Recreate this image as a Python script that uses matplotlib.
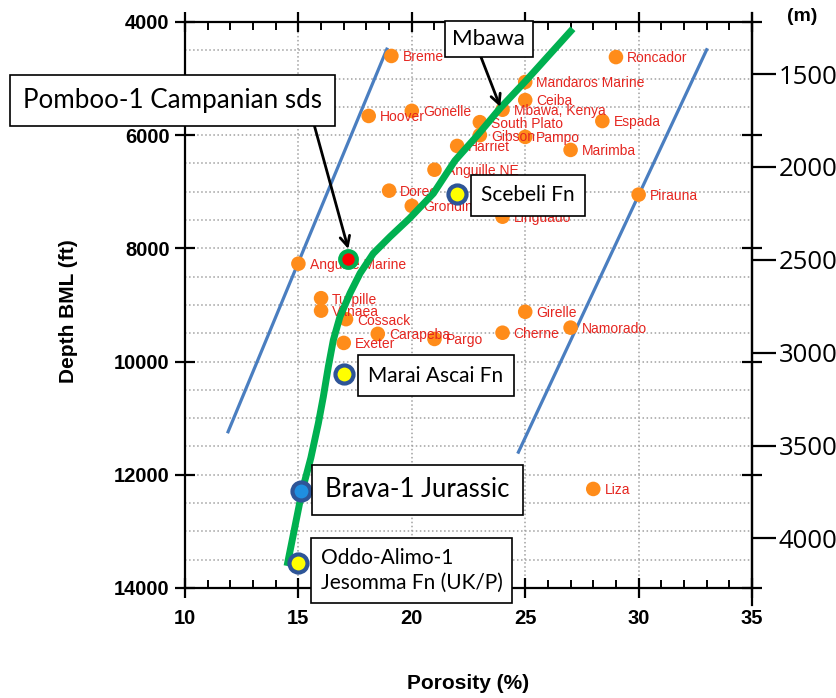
import matplotlib.pyplot as plt
import numpy as np
from matplotlib.ticker import MultipleLocator

plt.rcParams['font.family'] = ['Liberation Sans', 'DejaVu Sans']

# analogue fields: porosity (%) vs depth below mudline (ft)
field_names = ["Breme", "Roncador", "Mandaros Marine", "Ceiba", "Mbawa, Kenya",
               "Hoover", "Gonelle", "South Plato", "Gibson", "Pampo", "Harriet",
               "Espada", "Marimba", "Anguille NE", "Doreo", "Grondin", "Linguado",
               "Pirauna", "Anguille Marine", "Turpille", "Vanaea", "Cossack",
               "Carapeba", "Pargo", "Exeter", "Girelle", "Cherne", "Namorado", "Liza"]
field_poro = [19.1, 29.0, 25.0, 25.0, 24.0, 18.1, 20.0, 23.0, 23.0, 25.0, 22.0,
              28.4, 27.0, 21.0, 19.0, 20.0, 24.0, 30.0, 15.0, 16.0, 16.0, 17.1,
              18.5, 21.0, 17.0, 25.0, 24.0, 27.0, 28.0]
field_depth = [4600, 4620, 5060, 5380, 5550, 5660, 5570, 5770, 6000, 6030, 6190,
               5750, 6260, 6610, 6980, 7250, 7440, 7050, 8270, 8880, 9100, 9250,
               9510, 9600, 9670, 9120, 9490, 9400, 12250]

# porosity envelope
env_left_poro = [11.9, 18.9]
env_left_depth = [11240, 4480]
env_right_poro = [24.7, 33.0]
env_right_depth = [11600, 4490]

# compaction trend
trend_poro = [27.1, 25.05, 23.9, 22.9, 21.9, 20.95, 19.9, 19.05, 18.3, 17.72,
              17.28, 16.83, 16.54, 16.32, 16.1, 15.88, 15.55, 15.16, 14.5]
trend_depth = [4120, 5030, 5520, 6000, 6450, 7030, 7470, 7790, 8090, 8440,
               8790, 9210, 9620, 10090, 10620, 11090, 11700, 12290, 13610]

# highlighted wells
well_poro = [22.0, 17.0, 15.1, 15.0]
well_depth = [7040, 10220, 12280, 13560]
well_fill = ["#FFFF00", "#FFFF00", "#1F8FE0", "#FFFF00"]
pomboo_poro, pomboo_depth = 17.2, 8180

# callout boxes: text, centre (poro, depth), fontsize, pad, arrow start, arrow tip
callouts = [
    ("Pomboo-1 Campanian sds", (9.43, 5380), 18.7, 0.5, (15.6, 5680), (17.2, 8010)),
    ("Mbawa", (23.4, 4300), 16, 0.35, (23.05, 4620), (23.9, 5500)),
    ("Scebeli Fn", (25.12, 7065), 15, 0.5, None, None),
    ("Marai Ascai Fn", (21.05, 10246), 15, 0.5, None, None),
    ("Brava-1 Jurassic", (20.25, 12268), 18.5, 0.5, None, None),
    ("Oddo-Alimo-1\nJesomma Fn (UK/P)", (20.0, 13691), 15, 0.45, None, None),
]

m_ticks = [1500, 2000, 2500, 3000, 3500, 4000]

fig = plt.figure(figsize=(8.37, 6.98), dpi=100)
ax = fig.add_axes([0.221, 0.1576, 0.6775, 0.8109])

ax.set_xlim(10, 35)
ax.set_ylim(14000, 4000)
ax.xaxis.set_major_locator(MultipleLocator(5))
ax.xaxis.set_minor_locator(MultipleLocator(1))
ax.yaxis.set_major_locator(MultipleLocator(2000))
ax.yaxis.set_minor_locator(MultipleLocator(500))

ax.grid(which='major', axis='x', color='#A0A0A0', linestyle=':', linewidth=1.1)
ax.grid(which='both', axis='y', color='#A0A0A0', linestyle=':', linewidth=1.1)
ax.set_axisbelow(True)

for s in ax.spines.values():
    s.set_linewidth(1.6)

ax.tick_params(which='major', direction='inout', length=14, width=1.6,
               top=True, right=True, labelsize=14.5, colors='black')
ax.tick_params(axis='x', which='minor', direction='in', length=6, width=1.4,
               top=True, bottom=True)
ax.tick_params(axis='y', which='minor', length=0, left=False, right=False)
ax.tick_params(axis='x', which='major', pad=8)
ax.tick_params(axis='y', which='major', pad=4)
for lab in ax.get_xticklabels() + ax.get_yticklabels():
    lab.set_fontweight('bold')

ax.set_xlabel("Porosity (%)", fontsize=15, fontweight='bold')
ax.xaxis.set_label_coords(0.5, -0.168)
ax.xaxis.label.set_va('center')
ax.set_ylabel("Depth BML (ft)", fontsize=15, fontweight='bold')
ax.yaxis.set_label_coords(-0.206, 0.49)
ax.yaxis.label.set_va('center')

# envelope lines
ax.plot(env_left_poro, env_left_depth, color='#4A7EC0', lw=2.3, zorder=2)
ax.plot(env_right_poro, env_right_depth, color='#4A7EC0', lw=2.3, zorder=2)

# analogue fields
ax.scatter(field_poro, field_depth, s=110, color='#FF8C1A', edgecolors='none', zorder=3)
for name, x, y in zip(field_names, field_poro, field_depth):
    ax.annotate(name, (x, y), xytext=(8, -1), textcoords='offset points',
                color='#E52620', fontsize=10, va='center', ha='left', zorder=4)

# compaction trend
ax.plot(trend_poro, trend_depth, color='#00B050', lw=5, solid_joinstyle='round',
        solid_capstyle='butt', zorder=5)

# highlighted wells
ax.plot(pomboo_poro, pomboo_depth, 'o', ms=12, mfc='#FF0000', mec='#00B050', mew=3, zorder=6)
for x, y, fc in zip(well_poro, well_depth, well_fill):
    ax.plot(x, y, 'o', ms=13, mfc=fc, mec='#2E5597', mew=3, zorder=6)

for text, (cx, cy), fs, pad, start, end in callouts:
    ax.text(cx, cy, text, fontsize=fs, family='Lato', ha='center', va='center',
            multialignment='left', linespacing=1.35, zorder=8, clip_on=False,
            bbox=dict(boxstyle=f'square,pad={pad}', fc='white', ec='black', lw=1.2))
    if start is not None:
        ax.annotate("", xy=end, xytext=start, zorder=7, annotation_clip=False,
                    arrowprops=dict(arrowstyle='->,head_length=0.7,head_width=0.35',
                                    color='black', lw=2, shrinkA=0, shrinkB=0))

# depth in metres on the right
secax = ax.secondary_yaxis('right', functions=(lambda f: f * 0.3048, lambda m: m / 0.3048))
secax.set_yticks(m_ticks)
secax.tick_params(direction='out', length=17, width=1.6, labelsize=18.5, pad=2)
secax.spines['right'].set_visible(False)
for lab in secax.get_yticklabels():
    lab.set_family('Open Sans')
ax.plot([1, 1], [-0.03, 1.016], transform=ax.transAxes, color='black', lw=1.6,
        clip_on=False, zorder=1)
fig.text(0.958, 0.977, "(m)", fontsize=14, fontweight='bold', ha='center', va='center')

fig.savefig('out.png', dpi=100)
